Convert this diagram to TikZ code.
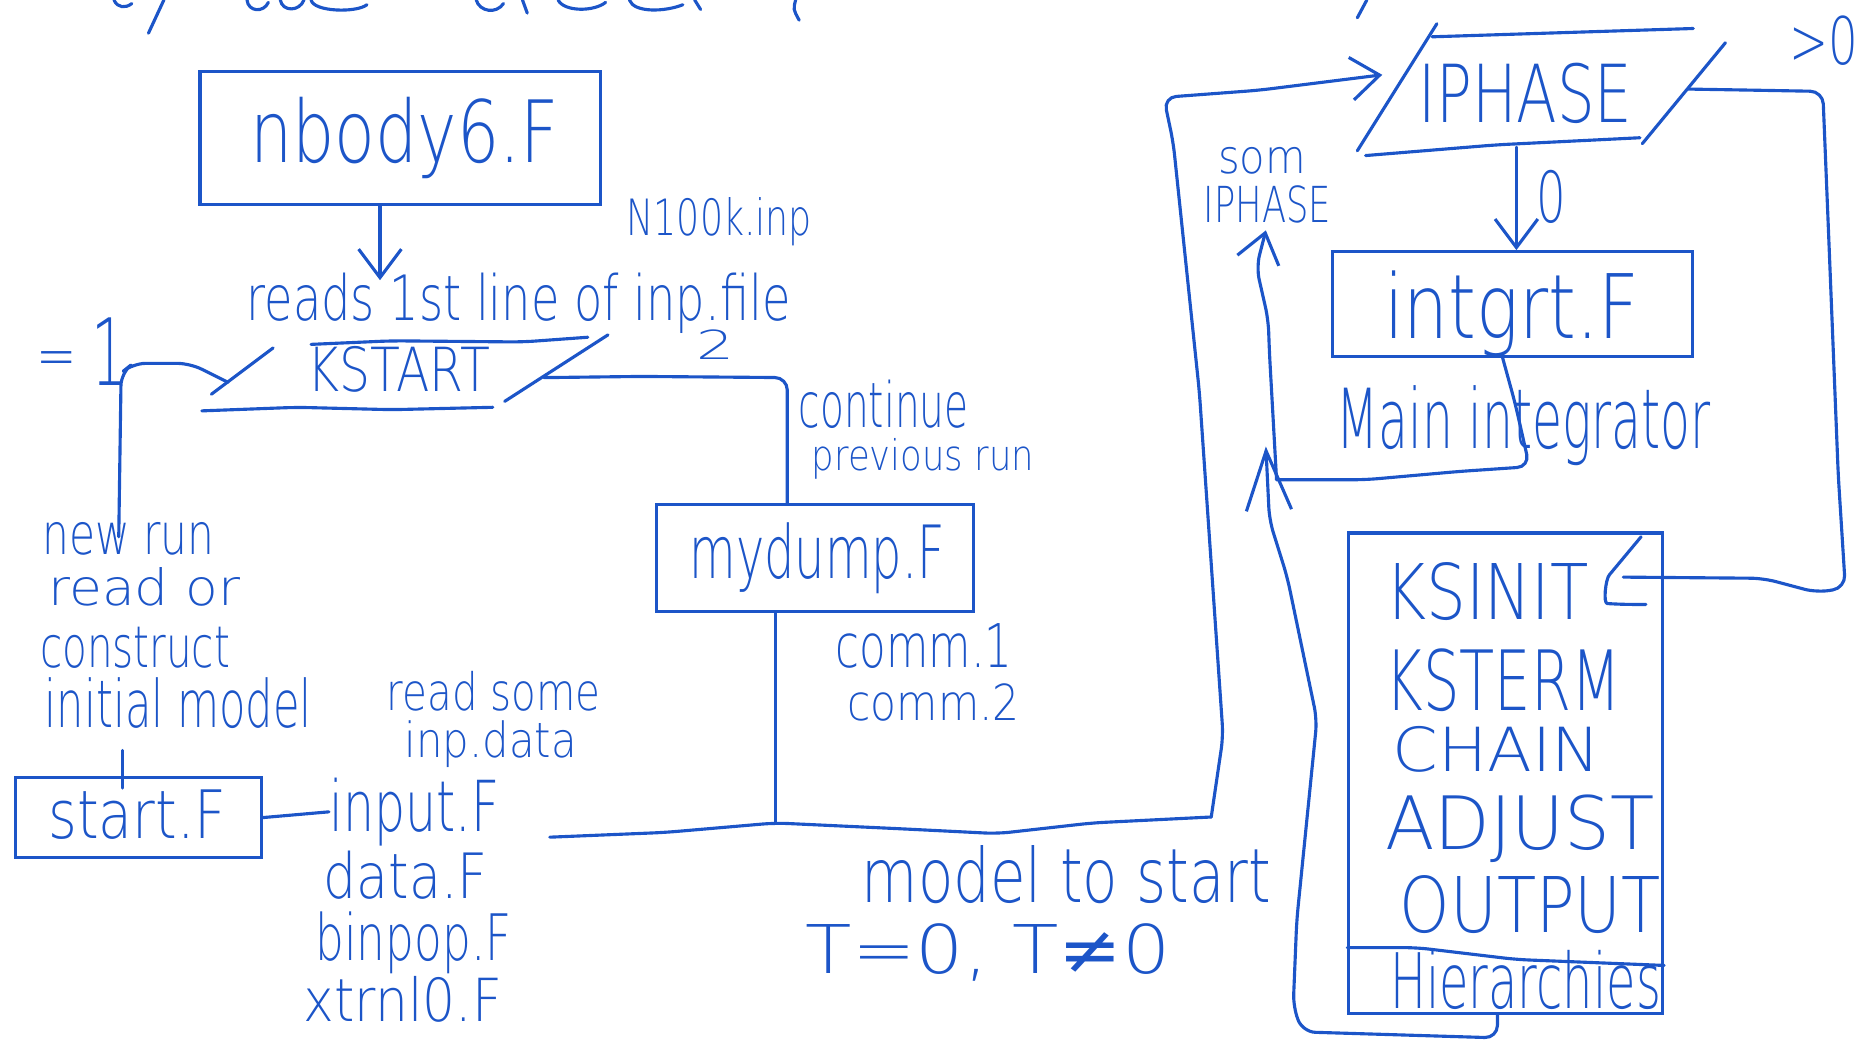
\documentclass[tikz,border=0pt]{standalone}
\usepackage{fontspec}
\newfontfamily\hf{DejaVu Sans ExtraLight}
\newfontfamily\hfsym{DejaVu Sans}
\usetikzlibrary{arrows.meta}
\definecolor{ink}{RGB}{28,85,200}
\newlength\un
\setlength\un{0.01cm}
% \tx{width}{height}{text}: pen lettering stretched to a given box
\newcommand\tx[3]{\resizebox{#1\un}{#2\un}{\hf #3}}
\begin{document}
\begin{tikzpicture}[x=0.01cm,y=-0.01cm,
  pen/.style={draw=ink,line width=0.75pt,line cap=round,line join=round,rounded corners=3pt},
  arr/.style={pen,-{Straight Barb[length=2.4mm,width=3.6mm,line width=0.75pt]}},
  bigarr/.style={pen,-{Straight Barb[length=5mm,width=3.8mm,line width=0.75pt]}},
  box/.style={draw=ink,line width=0.75pt,rectangle,inner sep=0pt},
  txt/.style={anchor=base west,inner sep=0pt,text=ink}]
\useasboundingbox (0,0) rectangle (1568,879);

% heading strokes cut by the top edge
\draw[pen] (125,28) -- (138,0);
\draw[pen] (96,0) .. controls (99,7) and (106,7) .. (111,3);
\draw[pen] (208,0) .. controls (209,10) and (222,11) .. (226,2);
\draw[pen] (236,0) .. controls (238,10) and (252,10) .. (256,0);
\draw[pen] (262,0) .. controls (264,10) and (300,11) .. (309,4);
\draw[pen] (401,0) .. controls (404,10) and (418,12) .. (424,3);
\draw[pen] (440,0) -- (444,11);
\draw[pen] (470,0) .. controls (475,10) and (500,10) .. (510,2);
\draw[pen] (530,0) .. controls (534,11) and (560,10) .. (575,4);
\draw[pen] (585,0) -- (590,8);
\draw[pen] (670,0) .. controls (668,8) .. (673,17);
\draw[pen] (1151,0) -- (1143,15);

% nbody6.F
\node[box,minimum width=3.37cm,minimum height=1.12cm] (nbody) at (337,116) {};
\node[txt] (nbodyT) at (210,137) {\tx{260}{55}{nbody6.F}};
\coordinate (kin) at (320,236);
\draw[arr] (nbody.south -| kin) -- (kin);
\node[txt] (readsT) at (207,270) {\tx{458}{40}{reads 1st line of inp.file}};
\node[txt] (inpT) at (527,198) {\tx{156}{32}{N100k.inp}};

% KSTART
\node[txt] (kstartT) at (258,330) {\tx{154}{38}{KSTART}};
\draw[pen] (262,290) -- (330,287) -- (440,288) -- (495,284);
\draw[pen] (170,346) -- (250,343) -- (330,345) -- (415,343);
\draw[pen] (178,332) -- (230,293);
\draw[pen] (425,338) -- (512,282);
\node[txt] (eqone) at (30,325) {\raisebox{8\un}{\tx{34}{21}{=}}\hspace{12\un}\tx{30}{57}{1}};
\coordinate (kl) at (192,322);
\coordinate (lb) at (100,452);
\draw[pen] (kl) -- (160,306) -- (112,306) -- (102,314) -- (lb);

% new run branch
\node[txt] (nr1) at (35,467) {\tx{145}{27}{new run}};
\node[txt] (nr2) at (40,510) {\tx{162}{32}{read or}};
\node[txt] (nr3) at (33,562) {\tx{160}{34}{construct}};
\node[txt] (nr4) at (37,613) {\tx{225}{42}{initial model}};
\node[box,minimum width=2.07cm,minimum height=0.67cm] (start) at (116.5,688.5) {};
\node[txt] (startT) at (40,706) {\tx{150}{41}{start.F}};
\coordinate (tk) at (103,632);
\draw[pen] (tk) -- ([yshift=-0.1cm]start.north -| tk);
\node[txt] (rs1) at (325,598) {\tx{180}{33}{read some}};
\node[txt] (rs2) at (340,638) {\tx{145}{31}{inp.data}};
\node[txt] (inputT) at (277,700) {\tx{143}{45}{input.F}};
\node[txt] (dataT) at (272,757) {\tx{138}{40}{data.F}};
\node[txt] (binpopT) at (265,809) {\tx{165}{41}{binpop.F}};
\node[txt] (xtrnlT) at (255,860) {\tx{167}{38}{xtrnl0.F}};
\draw[pen] (start.east) -- (inputT.west);

% continue branch
\coordinate (kr) at (458,318);
\coordinate (kc) at (663,318);
\node[txt] (two) at (586,303) {\tx{32}{25}{2}};
\node[box,minimum width=2.67cm,minimum height=0.9cm] (mydump) at (686.5,470) {};
\node[txt] (mydumpT) at (580,487) {\tx{215}{47}{mydump.F}};
\draw[pen] (kr) -- (540,317) -- (kc) -- (kc |- mydump.north);
\node[txt] (cont1) at (672,360) {\tx{143}{40}{continue}};
\node[txt] (cont2) at (683,396) {\tx{187}{27}{previous run}};
\node[txt] (comm1) at (703,562) {\tx{149}{37}{comm.1}};
\node[txt] (comm2) at (713,607) {\tx{145}{31}{comm.2}};

% merge line and loop up to IPHASE
\coordinate (jn) at (653,693);
\coordinate (bl) at (463,705);
\coordinate (br) at (1020,688);
\coordinate (ipin) at (1164,63);
\draw[pen] (mydump.south -| jn) -- (jn);
\draw[pen] (bl) -- (560,701) -- (jn) -- (760,698) -- (840,702) -- (920,693) -- (br);
\draw[arr] (br) -- (1030,620) -- (1010,330) -- (988,120) -- (980,82) -- (1060,76) -- (ipin);
\node[txt] (modelT) at (725,760) {\tx{345}{48}{model to start}};
\node[txt] (tT) at (678,820) {\resizebox{307\un}{42\un}{\hf T=0, T{\hfsym ≠}0}};

% IPHASE
\node[txt] (ipT) at (1194,103) {\tx{180}{50}{IPHASE}};
\draw[pen] (1210,20) -- (1143,127);
\draw[pen] (1206,31) -- (1300,28) -- (1426,24);
\draw[pen] (1150,131) -- (1260,122) -- (1381,116);
\draw[pen] (1453,36) -- (1383,121);
\node[txt] (gtzero) at (1506,54) {\tx{58}{41}{>0}};
\node[txt] (zero) at (1293,187) {\tx{25}{44}{0}};

% intgrt.F
\node[box,minimum width=3.03cm,minimum height=0.88cm] (intgrt) at (1273.5,256) {};
\node[txt] (intT) at (1165,285) {\tx{215}{57}{intgrt.F}};
\coordinate (ipb) at (1277,124);
\draw[arr] (ipb) -- (ipb |- intgrt.north);
\node[txt] (mainT) at (1125,378) {\tx{315}{53}{Main integrator}};
\coordinate (mb) at (1075,404);
\draw[pen] (1265,300) -- (1276,340) -- (1288,393) -- (1229,397) -- (1150,404) -- (mb);
\draw[arr] (mb) -- (1069,297) -- (1068,269) -- (1058,225) -- (1066,194);
\node[txt] (somT) at (1025,146) {\tx{74}{22}{som}};
\node[txt] (ipsT) at (1013,187) {\tx{107}{31}{IPHASE}};

% KS block
\node[box,minimum width=2.64cm,minimum height=4.04cm] (ks) at (1268,651) {};
\node[txt] (ksinit) at (1166,522) {\tx{171}{48}{KSINIT}};
\node[txt] (ksterm) at (1166,598) {\tx{198}{52}{KSTERM}};
\node[txt] (chain) at (1172,650) {\tx{175}{38}{CHAIN}};
\node[txt] (adjust) at (1166,715) {\tx{227}{46}{ADJUST}};
\node[txt] (output) at (1178,785) {\tx{220}{48}{OUTPUT}};
\node[txt] (hier) at (1170,849) {\tx{228}{49}{Hierarchies}};
\coordinate (dv) at (1193,798);
\draw[pen] (ks.west |- dv) -- (dv) -- (1277,808) -- (ks.east |- 0,813);
\draw[pen] (1382,452) -- (1362,476) .. controls (1352,488) and (1350,508) .. (1364,509) -- (1386,509);
\coordinate (ksin) at (1367,486);
\coordinate (ipr) at (1421,75);
\draw[pen] (ipr) -- (1480,76) -- (1535,77) -- (1540,200) -- (1548,400) -- (1554,495) -- (1530,499) -- (1485,487) -- (ksin);
\coordinate (hb) at (1261,853);
\draw[bigarr] (ks.south -| hb) -- (1261,874) -- (1097,869) -- (1089,848) -- (1092,775) -- (1109,606) -- (1084,486) -- (1069,438) -- (1066,376);
\end{tikzpicture}
\end{document}
